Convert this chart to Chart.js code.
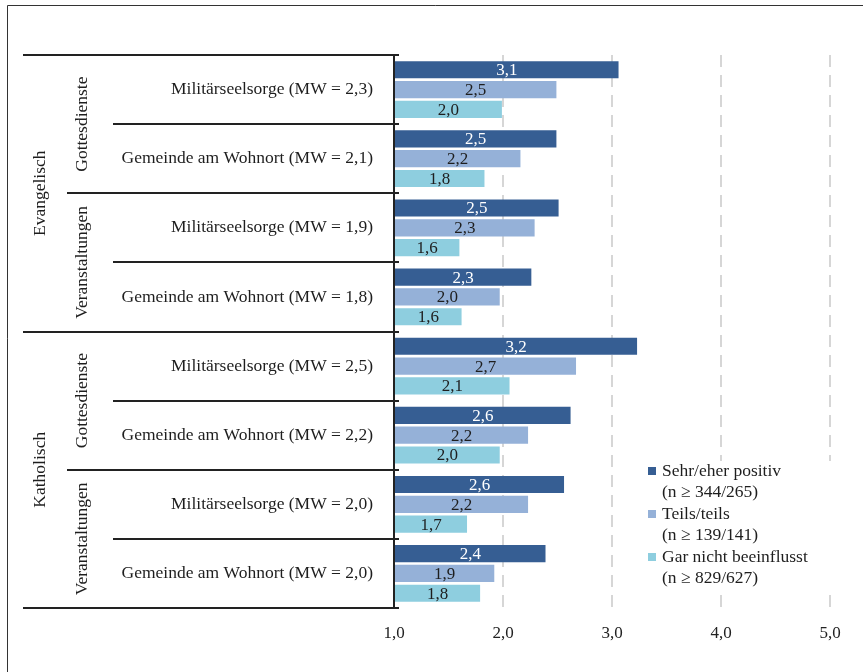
<!DOCTYPE html>
<html>
<head>
<meta charset="utf-8">
<script src="https://cdn.jsdelivr.net/npm/chart.js@4.4.0/dist/chart.umd.min.js"></script>
<style>
  html, body { margin: 0; padding: 0; background: #fff; }
  #wrap { width: 863px; height: 672px; }
</style>
</head>
<body>
<div id="wrap"><canvas id="chart" width="863" height="672"></canvas></div>
<script>
// rows from top to bottom
const items = [
  'Militärseelsorge (MW = 2,3)',
  'Gemeinde am Wohnort (MW = 2,1)',
  'Militärseelsorge (MW = 1,9)',
  'Gemeinde am Wohnort (MW = 1,8)',
  'Militärseelsorge (MW = 2,5)',
  'Gemeinde am Wohnort (MW = 2,2)',
  'Militärseelsorge (MW = 2,0)',
  'Gemeinde am Wohnort (MW = 2,0)'
];
const formats = ['Gottesdienste', 'Veranstaltungen', 'Gottesdienste', 'Veranstaltungen'];
const confessions = ['Evangelisch', 'Katholisch'];

const seriesNames = ['Sehr/eher positiv', 'Teils/teils', 'Gar nicht beeinflusst'];
const seriesN = ['(n ≥ 344/265)', '(n ≥ 139/141)', '(n ≥ 829/627)'];
const seriesColors = ['#365e93', '#95b1d8', '#8ecedf'];

const positive = [3.06, 2.49, 2.51, 2.26, 3.23, 2.62, 2.56, 2.39];
const partly   = [2.49, 2.16, 2.29, 1.97, 2.67, 2.23, 2.23, 1.92];
const notAtAll = [1.99, 1.83, 1.60, 1.62, 2.06, 1.97, 1.67, 1.79];

const xTicks = [1, 2, 3, 4, 5];

const serif = '"Liberation Serif", "DejaVu Serif", serif';
const fmt = v => (Math.round(v * 10) / 10).toFixed(1).replace('.', ',');

const tablePlugin = {
  id: 'table',
  afterDatasetsDraw(chart) {
    const { ctx, scales: { x, y } } = chart;
    const step = y.getPixelForValue(1) - y.getPixelForValue(0);
    const edge = i => y.getPixelForValue(i) - step / 2;
    const axisX = x.getPixelForValue(1);
    ctx.save();

    // outer frame (left + top)
    ctx.strokeStyle = '#333';
    ctx.lineWidth = 1;
    ctx.beginPath();
    ctx.moveTo(7.5, 672);
    ctx.lineTo(7.5, 5.5);
    ctx.lineTo(863, 5.5);
    ctx.stroke();

    // table lines
    ctx.strokeStyle = '#222';
    ctx.lineWidth = 2;
    for (let i = 0; i <= items.length; i++) {
      const yy = Math.round(edge(i));
      const start = i % 4 === 0 ? 23 : (i % 2 === 0 ? 67 : 113);
      ctx.beginPath();
      ctx.moveTo(start, yy);
      ctx.lineTo(axisX + 5, yy);
      ctx.stroke();
    }
    ctx.beginPath();
    ctx.moveTo(axisX, Math.round(edge(0)));
    ctx.lineTo(axisX, Math.round(edge(items.length)));
    ctx.stroke();

    // row labels
    ctx.fillStyle = '#1e1e1e';
    ctx.font = '17.5px ' + serif;
    ctx.textAlign = 'right';
    ctx.textBaseline = 'middle';
    items.forEach((t, i) => ctx.fillText(t, 373, y.getPixelForValue(i)));

    // rotated group labels
    ctx.textAlign = 'center';
    const rotated = (t, cx, cy) => {
      ctx.save();
      ctx.translate(cx, cy);
      ctx.rotate(-Math.PI / 2);
      ctx.fillText(t, 0, 0);
      ctx.restore();
    };
    formats.forEach((t, j) => rotated(t, 82, (edge(2 * j) + edge(2 * j + 2)) / 2));
    confessions.forEach((t, k) => rotated(t, 40, (edge(4 * k) + edge(4 * k + 4)) / 2));

    // value labels in bars
    ctx.font = '17px ' + serif;
    chart.data.datasets.forEach((ds, d) => {
      const meta = chart.getDatasetMeta(d);
      ctx.fillStyle = d === 0 ? '#fff' : '#1e1e1e';
      meta.data.forEach((bar, i) => {
        ctx.fillText(fmt(ds.data[i]), (bar.x + bar.base) / 2, bar.y + 1);
      });
    });

    // legend
    ctx.fillStyle = '#fff';
    ctx.fillRect(640, 461, 210, 128);
    ctx.font = '17.5px ' + serif;
    ctx.textAlign = 'left';
    seriesNames.forEach((name, s) => {
      const top = 471 + s * 43;
      ctx.fillStyle = seriesColors[s];
      ctx.fillRect(648, top - 4, 8, 8);
      ctx.fillStyle = '#1e1e1e';
      ctx.fillText(name, 662, top);
      ctx.fillText(seriesN[s], 662, top + 21.5);
    });

    ctx.restore();
  }
};

new Chart(document.getElementById('chart'), {
  type: 'bar',
  data: {
    labels: items,
    datasets: [positive, partly, notAtAll].map((vals, s) => ({
      label: seriesNames[s],
      data: vals,
      base: 1,
      backgroundColor: seriesColors[s],
      borderWidth: 0,
      categoryPercentage: 0.86,
      barPercentage: 0.87
    }))
  },
  options: {
    indexAxis: 'y',
    responsive: false,
    animation: false,
    layout: { padding: { left: 394, right: 33, top: 55, bottom: 0 } },
    plugins: {
      legend: { display: false },
      tooltip: { enabled: false }
    },
    scales: {
      x: {
        min: 1,
        max: 5,
        afterBuildTicks: scale => { scale.ticks = xTicks.map(v => ({ value: v })); },
        afterFit: scale => { scale.height = 64; },
        ticks: {
          padding: 15,
          color: '#222',
          font: { family: serif, size: 17 },
          callback: v => fmt(v)
        },
        grid: {
          drawTicks: false,
          lineWidth: 2,
          color: c => (c.tick && c.tick.value === 1) ? 'rgba(0,0,0,0)' : '#d6d6d6'
        },
        border: { display: false, dash: [12, 8] }
      },
      y: { display: false }
    }
  },
  plugins: [tablePlugin]
});
</script>
</body>
</html>
